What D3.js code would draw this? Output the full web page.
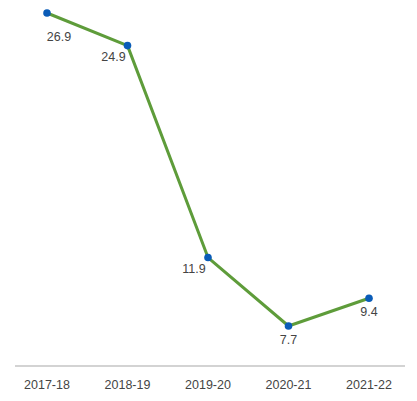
<!DOCTYPE html>
<html>
<head>
<meta charset="utf-8">
<script src="https://cdn.jsdelivr.net/npm/d3@7"></script>
<style>
  body { margin: 0; background: #fff; }
  text { font-family: "Liberation Sans", Arial, sans-serif; }
</style>
</head>
<body>
<div id="chart"></div>
<script>
const years = ["2017-18", "2018-19", "2019-20", "2020-21", "2021-22"];
const values = [26.9, 24.9, 11.9, 7.7, 9.4];
const labelSide = ["right", "left", "left", "below", "below"];

const width = 417, height = 401;
const svg = d3.select("#chart").append("svg")
  .attr("width", width).attr("height", height);

const x = d3.scalePoint().domain(years).range([47, 369]);
const y = d3.scaleLinear().domain([7.7, 26.9]).range([326, 13]);

// baseline
svg.append("line")
  .attr("x1", 15).attr("x2", 405)
  .attr("y1", 366).attr("y2", 366)
  .attr("stroke", "#a8a8a8").attr("stroke-width", 1.2);

svg.append("g").selectAll("text")
  .data(years).join("text")
  .attr("x", d => x(d)).attr("y", 389)
  .attr("text-anchor", "middle")
  .attr("font-size", 12.5)
  .attr("fill", "#444")
  .text(d => d);

let pts = years.map((d, i) => ({year: d, v: values[i], side: labelSide[i]}));

svg.append("path")
  .datum(pts)
  .attr("fill", "none")
  .attr("stroke", "#5e9c3a")
  .attr("stroke-width", 3)
  .attr("stroke-linejoin", "round")
  .attr("d", d3.line().x(d => x(d.year)).y(d => y(d.v)));

svg.append("g").selectAll("circle")
  .data(pts).join("circle")
  .attr("cx", d => x(d.year)).attr("cy", d => y(d.v))
  .attr("r", 3.8)
  .attr("fill", "#0a5cb8");

let offs = {right: [12, 28], left: [-14, 15], below: [0, 18]};
svg.append("g").selectAll("text")
  .data(pts).join("text")
  .attr("x", d => x(d.year) + offs[d.side][0])
  .attr("y", d => y(d.v) + offs[d.side][1])
  .attr("text-anchor", "middle")
  .attr("font-size", 12.5)
  .attr("fill", "#444")
  .text(d => d.v.toFixed(1));
</script>
</body>
</html>
